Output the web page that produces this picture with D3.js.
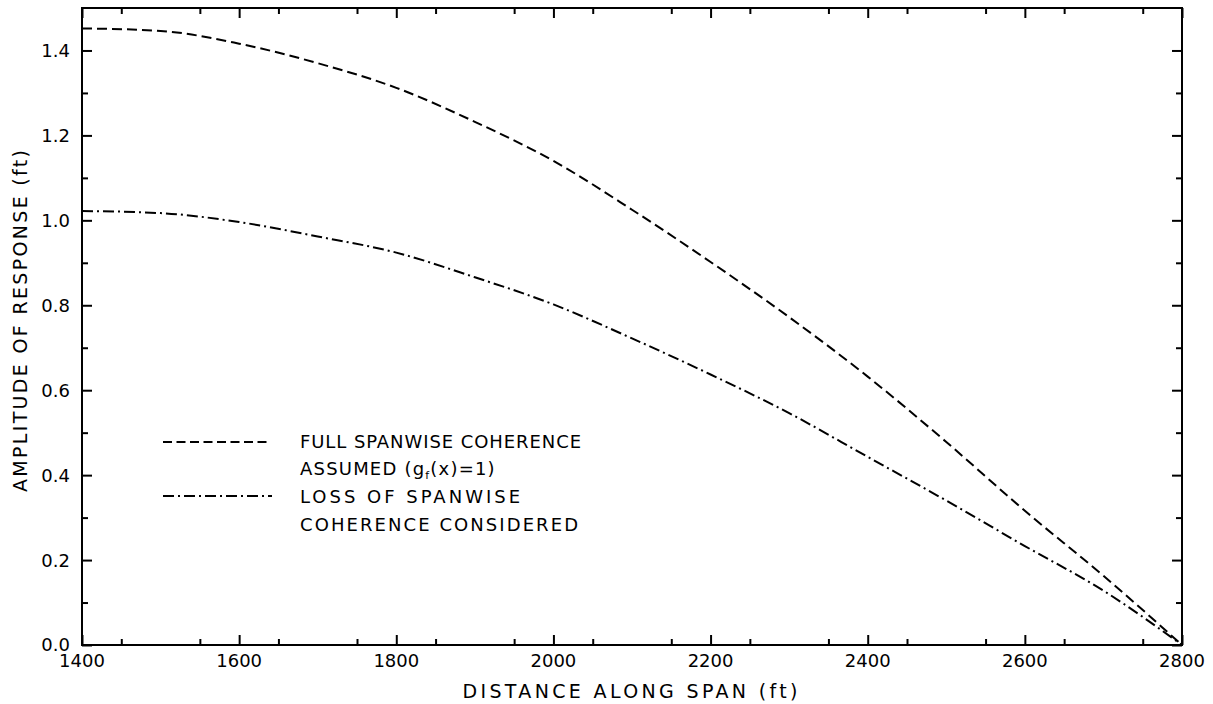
<!DOCTYPE html>
<html>
<head>
<meta charset="utf-8">
<script src="https://cdn.jsdelivr.net/npm/d3@7"></script>
<style>
  html, body { margin: 0; padding: 0; background: #fff; }
  svg { display: block; }
  text { font-family: "DejaVu Sans", sans-serif; fill: #000; }
</style>
</head>
<body>
<svg id="chart" width="1213" height="704"></svg>
<script>
// Distance along span (ft)
const distance = [1400, 1500, 1600, 1700, 1800, 1900, 2000, 2100, 2200, 2300, 2400, 2500, 2600, 2700, 2800];
// Amplitude of response (ft), full spanwise coherence, g_f(x) = 1
const fullCoherence = [1.452, 1.446, 1.416, 1.370, 1.312, 1.232, 1.140, 1.025, 0.902, 0.772, 0.632, 0.478, 0.316, 0.163, 0.0];
// Amplitude of response (ft), loss of spanwise coherence considered
const lossCoherence = [1.022, 1.017, 0.996, 0.962, 0.924, 0.866, 0.802, 0.722, 0.637, 0.546, 0.443, 0.340, 0.233, 0.128, 0.0];

const xMajorTicks = [1400, 1600, 1800, 2000, 2200, 2400, 2600, 2800];
const yMajorTicks = [0.0, 0.2, 0.4, 0.6, 0.8, 1.0, 1.2, 1.4];

const svg = d3.select("#chart");
const plotLeft = 82, plotRight = 1182, plotTop = 8, plotBottom = 645;

const x = d3.scaleLinear().domain([1400, 2800]).range([plotLeft, plotRight]);
const y = d3.scaleLinear().domain([0, 1.5]).range([plotBottom, plotTop]);

const xMinor = d3.range(1450, 2800, 100);
const yMinor = d3.range(0.1, 1.5, 0.2);

// Tick marks on all four sides, pointing inward
function tickAxis(axisFn, scale, vals, size, transform) {
  const g = svg.append("g").attr("transform", transform)
    .call(axisFn(scale).tickValues(vals).tickSize(size).tickFormat(""));
  g.select(".domain").remove();
  g.selectAll(".tick line").attr("stroke", "#000").attr("stroke-width", 2);
  return g;
}
tickAxis(d3.axisBottom, x, xMajorTicks, -10, `translate(0,${plotBottom})`);
tickAxis(d3.axisBottom, x, xMinor, -6, `translate(0,${plotBottom})`);
tickAxis(d3.axisTop, x, xMajorTicks, -10, `translate(0,${plotTop})`);
tickAxis(d3.axisTop, x, xMinor, -6, `translate(0,${plotTop})`);
tickAxis(d3.axisLeft, y, yMajorTicks, -10, `translate(${plotLeft},0)`);
tickAxis(d3.axisLeft, y, yMinor, -6, `translate(${plotLeft},0)`);
tickAxis(d3.axisRight, y, yMajorTicks, -10, `translate(${plotRight},0)`);
tickAxis(d3.axisRight, y, yMinor, -6, `translate(${plotRight},0)`);

// Frame
svg.append("rect")
  .attr("x", plotLeft).attr("y", plotTop)
  .attr("width", plotRight - plotLeft).attr("height", plotBottom - plotTop)
  .attr("fill", "none").attr("stroke", "#000").attr("stroke-width", 2);

// Tick labels
svg.append("g").selectAll("text").data(xMajorTicks).join("text")
  .attr("x", d => x(d)).attr("y", plotBottom + 22)
  .attr("text-anchor", "middle").attr("font-size", 18)
  .text(d => d);

svg.append("g").selectAll("text").data(yMajorTicks).join("text")
  .attr("x", plotLeft - 12).attr("y", d => y(d)).attr("dy", "0.36em")
  .attr("text-anchor", "end").attr("font-size", 18)
  .text(d => d.toFixed(1));

// Axis titles
svg.append("text")
  .attr("x", 630).attr("y", 698)
  .attr("text-anchor", "middle").attr("font-size", 19)
  .attr("textLength", 335).attr("lengthAdjust", "spacing")
  .text("DISTANCE ALONG SPAN (ft)");

svg.append("text")
  .attr("transform", "translate(27,321) rotate(-90)")
  .attr("text-anchor", "middle").attr("font-size", 19)
  .attr("textLength", 342).attr("lengthAdjust", "spacing")
  .text("AMPLITUDE OF RESPONSE (ft)");

// Curves
const line = d3.line().x(d => x(d[0])).y(d => y(d[1])).curve(d3.curveMonotoneX);
const fullDash = "10,5";
const lossDash = "11,4,2,4";

svg.append("path")
  .datum(distance.map((d, i) => [d, fullCoherence[i]]))
  .attr("d", line).attr("fill", "none")
  .attr("stroke", "#000").attr("stroke-width", 2)
  .attr("stroke-dasharray", fullDash);

svg.append("path")
  .datum(distance.map((d, i) => [d, lossCoherence[i]]))
  .attr("d", line).attr("fill", "none")
  .attr("stroke", "#000").attr("stroke-width", 2)
  .attr("stroke-dasharray", lossDash);

// Legend
const legend = svg.append("g");
legend.append("line").attr("x1", 163).attr("x2", 271).attr("y1", 442).attr("y2", 442)
  .attr("stroke", "#000").attr("stroke-width", 2).attr("stroke-dasharray", "9,4.5");
legend.append("line").attr("x1", 163).attr("x2", 272).attr("y1", 496).attr("y2", 496)
  .attr("stroke", "#000").attr("stroke-width", 2).attr("stroke-dasharray", lossDash);

function legendText(yPos, str, len) {
  return legend.append("text")
    .attr("x", 300).attr("y", yPos).attr("dy", "0.36em")
    .attr("font-size", 18)
    .attr("textLength", len).attr("lengthAdjust", "spacing")
    .text(str);
}
legendText(442, "FULL SPANWISE COHERENCE", 281);
const assumed = legend.append("text")
  .attr("x", 300).attr("y", 469).attr("dy", "0.36em")
  .attr("font-size", 18).attr("letter-spacing", 1.2);
assumed.append("tspan").text("ASSUMED (g");
assumed.append("tspan").attr("font-size", 11).attr("dy", 4).text("f");
assumed.append("tspan").attr("dy", -4).text("(x)=1)");
legendText(497, "LOSS OF SPANWISE", 220);
legendText(525, "COHERENCE CONSIDERED", 278);
</script>
</body>
</html>
